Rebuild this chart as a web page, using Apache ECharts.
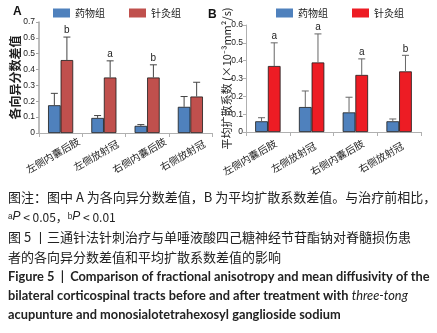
<!DOCTYPE html>
<html>
<head>
<meta charset="utf-8">
<script src="https://cdn.jsdelivr.net/npm/echarts@6/dist/echarts.min.js"></script>
<style>
  html, body { margin: 0; padding: 0; background: #fff; }
  #chart { width: 437px; height: 333px; }
</style>
</head>
<body>
<div id="chart"></div>
<script>
// 类别与组名
const categories = ['左侧内囊后肢', '左侧放射冠', '右侧内囊后肢', '右侧放射冠'];
const groupNames = ['药物组', '针灸组'];

// A：各向异分数差值（均值与误差）
const faDrug = [0.175, 0.095, 0.045, 0.165];
const faDrugErr = [0.075, 0.015, 0.008, 0.065];
const faAcu = [0.46, 0.35, 0.35, 0.23];
const faAcuErr = [0.145, 0.105, 0.08, 0.09];
const faMarks = ['b', 'a', 'b', ''];

// B：平均扩散系数差值
const mdDrug = [0.06, 0.14, 0.11, 0.06];
const mdDrugErr = [0.02, 0.09, 0.085, 0.013];
const mdAcu = [0.37, 0.39, 0.32, 0.34];
const mdAcuErr = [0.13, 0.16, 0.09, 0.09];
const mdMarks = ['a', 'a', 'a', 'b'];

const BAR_RATIO = 0.29;
const cjk = '"Noto Sans CJK SC", sans-serif';

// 用 canvas 量文字宽度，拼接斜体片段
const measureCtx = document.createElement('canvas').getContext('2d');
function textWidth(font, t) { measureCtx.font = font; return measureCtx.measureText(t).width; }

// 误差线（只画上半段）+ 显著性字母
function errorSeries(idx, vals, errs, side, color, marks) {
  return {
    type: 'custom', name: 'err' + idx + side, xAxisIndex: idx, yAxisIndex: idx, z: 5, silent: true,
    data: vals.map((v, i) => [i, v, v + errs[i]]),
    renderItem: (params, api) => {
      const band = api.size([1, 0])[0];
      const base = api.coord([api.value(0), api.value(1)]);
      const top = api.coord([api.value(0), api.value(2)]);
      const x = base[0] + side * band * BAR_RATIO / 2;
      const children = [
        { type: 'line', shape: { x1: x, y1: base[1], x2: x, y2: top[1] }, style: { stroke: color, lineWidth: 1 } },
        { type: 'line', shape: { x1: x - 3.5, y1: top[1], x2: x + 3.5, y2: top[1] }, style: { stroke: color, lineWidth: 1 } }
      ];
      const m = marks ? marks[params.dataIndex] : '';
      if (m) {
        children.push({ type: 'text', style: { text: m, x: x, y: top[1] - 1.5, align: 'center', verticalAlign: 'bottom',
          fontSize: 10, fontFamily: 'Arial, sans-serif', fill: '#222' } });
      }
      return { type: 'group', children: children };
    }
  };
}

function barSeries(idx, name, vals, color) {
  return { type: 'bar', name: name, xAxisIndex: idx, yAxisIndex: idx, data: vals,
    barWidth: (BAR_RATIO * 100) + '%', barGap: '0%',
    itemStyle: { color: color, borderColor: '#1a1a1a', borderWidth: 0.8 } };
}

function xAxisCfg(idx, pad, margin) {
  return { type: 'category', gridIndex: idx, data: categories,
    axisLine: { lineStyle: { color: '#b0b0b0', width: 1 } },
    axisTick: { show: true, length: 4, lineStyle: { color: '#b0b0b0' } },
    axisLabel: { interval: 0, rotate: 30, align: 'center', verticalAlign: 'middle',
      margin: margin, padding: [0, pad, 0, 0], fontSize: 10, color: '#222', fontFamily: cjk } };
}

function yAxisCfg(idx, max, name, nameGap, nameStyle, lineColor, lineWidth, labelMargin) {
  return { type: 'value', gridIndex: idx, min: 0, max: max, interval: 0.1,
    name: name, nameLocation: 'middle', nameRotate: 90, nameGap: nameGap, nameTextStyle: nameStyle,
    nameMoveOverlap: false,
    axisLine: { show: true, lineStyle: { color: lineColor, width: lineWidth } },
    axisTick: { show: true, length: 3, lineStyle: { color: lineColor } },
    axisLabel: { fontSize: 8.5, color: '#222', margin: labelMargin },
    splitLine: { show: false } };
}

// 图注文字
const capText = (x, y, text, extra) => ({ type: 'text', x: x, y: y,
  style: Object.assign({ text: text, fontSize: 13, fontFamily: cjk, fill: '#222', verticalAlign: 'middle' }, extra || {}) });

// 第二行：上标 a/b + 斜体 P
const pPieces = [
  ['ᵃ', false], ['P', true], [' < 0.05，', false], ['ᵇ', false], ['P', true], [' < 0.01', false]
];
function pLine(y) {
  const out = [];
  let x = 8;
  pPieces.forEach(([t, it]) => {
    const fam = it ? 'Arial, sans-serif' : cjk;
    out.push(capText(x, y, t, { fontSize: 12, fontFamily: fam, fontStyle: it ? 'italic' : 'normal' }));
    x += textWidth((it ? 'italic ' : '') + '12px ' + fam, t);
  });
  return out;
}

// 英文图注
const EN_SIZE = 12.8;
const enText = (x, y, text, extra) => capText(x, y, text,
  Object.assign({ fontSize: EN_SIZE, fontWeight: 'bold', fontFamily: 'Lato, sans-serif' }, extra || {}));
const enLine2a = 'bilateral corticospinal tracts before and after treatment with ';
const enLine2b = 'three-tong';
const enLine2bX = 8 + textWidth('bold ' + EN_SIZE + 'px Lato, sans-serif', enLine2a);

const option = {
  animation: false,
  grid: [{ left: 39, right: 225, top: 22, bottom: 200 }, { left: 246, right: 16, top: 25, bottom: 201 }],
  legend: [
    { left: 48, top: 3, itemWidth: 17, itemHeight: 9, itemGap: 24, selectedMode: false,
      textStyle: { fontSize: 10, color: '#222', fontFamily: cjk },
      data: [{ name: groupNames[0], icon: 'rect', itemStyle: { color: '#4F81BD', borderWidth: 0 } },
             { name: groupNames[1], icon: 'rect', itemStyle: { color: '#C0504D', borderWidth: 0 } }] },
    { left: 271, top: 3, itemWidth: 17, itemHeight: 9, itemGap: 24, selectedMode: false,
      textStyle: { fontSize: 10, color: '#222', fontFamily: cjk },
      data: [{ name: groupNames[0], icon: 'rect', itemStyle: { color: '#4F81BD', borderWidth: 0 } },
             { name: groupNames[1], icon: 'rect', itemStyle: { color: '#ED1C24', borderWidth: 0 } }] }
  ],
  xAxis: [xAxisCfg(0, 18, 18), xAxisCfg(1, 42, 15)],
  yAxis: [
    yAxisCfg(0, 0.7, '各向异分数差值', 18, { fontSize: 12, fontWeight: 'bold', color: '#222', fontFamily: cjk }, '#a6a6a6', 1.5, 4),
    yAxisCfg(1, 0.6, '平均扩散系数 (×10⁻³mm²/s)', 14, { fontSize: 11, color: '#222', fontFamily: cjk }, '#b0b0b0', 1, 3)
  ],
  series: [
    barSeries(0, groupNames[0], faDrug, '#4F81BD'), barSeries(0, groupNames[1], faAcu, '#C0504D'),
    errorSeries(0, faDrug, faDrugErr, -1, '#444', null), errorSeries(0, faAcu, faAcuErr, 1, '#444', faMarks),
    barSeries(1, groupNames[0], mdDrug, '#4F81BD'), barSeries(1, groupNames[1], mdAcu, '#ED1C24'),
    errorSeries(1, mdDrug, mdDrugErr, -1, '#666', null), errorSeries(1, mdAcu, mdAcuErr, 1, '#666', mdMarks)
  ],
  graphic: [
    { type: 'text', x: 13, y: 12, style: { text: 'A', fontSize: 12, fontWeight: 'bold', fontFamily: 'Arial, sans-serif', fill: '#111', verticalAlign: 'middle' } },
    { type: 'text', x: 208, y: 15, style: { text: 'B', fontSize: 12, fontWeight: 'bold', fontFamily: 'Arial, sans-serif', fill: '#111', verticalAlign: 'middle' } },
    capText(8, 197, '图注：图中 A 为各向异分数差值，B 为平均扩散系数差值。与治疗前相比，'),
    ...pLine(217),
    capText(8, 237, '图 5 丨三通针法针刺治疗与单唾液酸四己糖神经节苷酯钠对脊髓损伤患'),
    capText(8, 257, '者的各向异分数差值和平均扩散系数差值的影响'),
    enText(8, 277, 'Figure 5  |  Comparison of fractional anisotropy and mean diffusivity of the'),
    enText(8, 296, enLine2a),
    enText(enLine2bX, 296, enLine2b, { fontWeight: 'normal', fontStyle: 'italic' }),
    enText(8, 315, 'acupunture and monosialotetrahexosyl ganglioside sodium')
  ]
};

const chart = echarts.init(document.getElementById('chart'));
chart.setOption(option);
</script>
</body>
</html>
